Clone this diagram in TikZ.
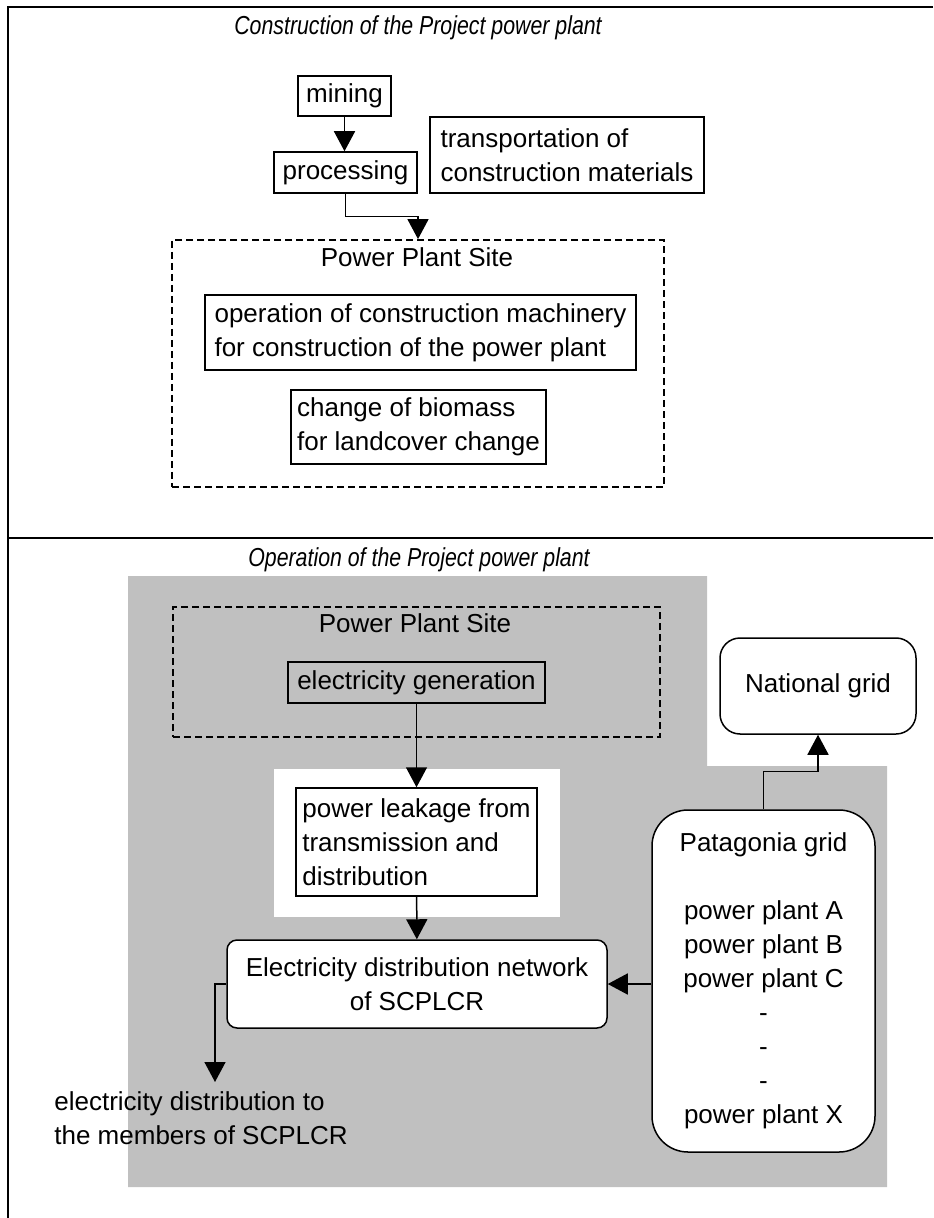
\documentclass[tikz,border=0pt]{standalone}
\usepackage{fontspec}
\setmainfont{Liberation Sans}
\newfontfamily\narrowsans[FakeStretch=0.82]{Liberation Sans}
\usetikzlibrary{arrows.meta,positioning}
\definecolor{bggrey}{HTML}{C0C0C0}

\begin{document}
\begin{tikzpicture}[x=0.5pt,y=-0.5pt,
  every node/.style={font=\fontsize{13}{17}\selectfont},
  box/.style={draw,line width=0.75pt,fill=white,align=left,inner sep=3pt},
  rbox/.style={box,align=center,rounded corners=#1},
  site/.style={draw,line width=0.9pt,dash pattern=on 3.5pt off 2pt},
  phasetitle/.style={font=\fontsize{13}{17}\narrowsans\itshape},
  arr/.style={line width=0.75pt,-{Triangle[length=10pt,width=10.5pt]}}]
\useasboundingbox (0,0) rectangle (933,1218);

% frame
\draw[line width=1.3pt] (933,7) -- (8,7) -- (8,1218);
\draw[line width=1.3pt] (8,538) -- (933,538);

% Construction phase
\node[phasetitle] (contitle) at (418,28) {Construction of the Project power plant};
\node[box,minimum width=46.5pt,minimum height=20pt] (mining) at (344.5,96) {mining};
\node[box,minimum width=71.5pt,minimum height=20.5pt] (processing) at (345.5,172.5) {processing};
\node[box,minimum width=137pt,minimum height=38pt] (transport) at (567,155)
  {transportation of\\construction materials};
\node[site,minimum width=246pt,minimum height=123.5pt] (site1) at (418,363.5) {};
\node (site1lbl) at (417,257) {Power Plant Site};
\node[box,minimum width=215.5pt,minimum height=37.5pt] (machinery) at (420.5,332.5)
  {operation of construction machinery\\for construction of the power plant};
\node[box,minimum width=126.5pt,minimum height=37pt] (biomass) at (418.5,427)
  {change of biomass\\for landcover change};

\draw[arr] (mining) -- (mining |- processing.north);
\draw[arr] (processing.south) -- ++(0,23) -| (site1.north);

% Operation phase
\node[phasetitle] (optitle) at (419,560) {Operation of the Project power plant};
\fill[bggrey] (128,576) -- (707,576) -- (707,766) -- (887,766) -- (887,1187) -- (128,1187) -- cycle;
\fill[white] (274,769) rectangle (560,917);

\node[site,minimum width=243.5pt,minimum height=65pt] (site2) at (416.5,672) {};
\node (site2lbl) at (415,623) {Power Plant Site};
\node[box,fill=bggrey,minimum width=128.5pt,minimum height=20.5pt] (generation) at (416.5,682.5)
  {electricity generation};
\node[box,minimum width=120.5pt,minimum height=54pt] (leakage) at (416.5,842)
  {power leakage from\\transmission and\\distribution};
\node[rbox=5pt,minimum width=190pt,minimum height=44pt] (distnet) at (417,984)
  {Electricity distribution network\\of SCPLCR};
\node[rbox=10pt,minimum width=98pt,minimum height=48pt] (national) at (818,686) {National grid};
\node[rbox=18pt,minimum width=111.5pt,minimum height=171pt] (patagonia) at (763.5,981)
  {Patagonia grid\\[17pt]power plant A\\power plant B\\power plant C\\-\\-\\-\\power plant X};
\node[align=left,anchor=north west,inner sep=0pt] (members) at (54,1091)
  {electricity distribution to\\the members of SCPLCR};
\coordinate (memtip) at (215,1082);

\draw[arr] (generation) -- (leakage);
\draw[arr] (leakage) -- (distnet);
\draw[arr] (patagonia.west |- distnet.east) -- (distnet.east);
\draw[arr] (patagonia.north) -- ++(0,-38) -| (national.south);
\draw[arr] (distnet.west) -| (memtip);
\end{tikzpicture}
\end{document}
